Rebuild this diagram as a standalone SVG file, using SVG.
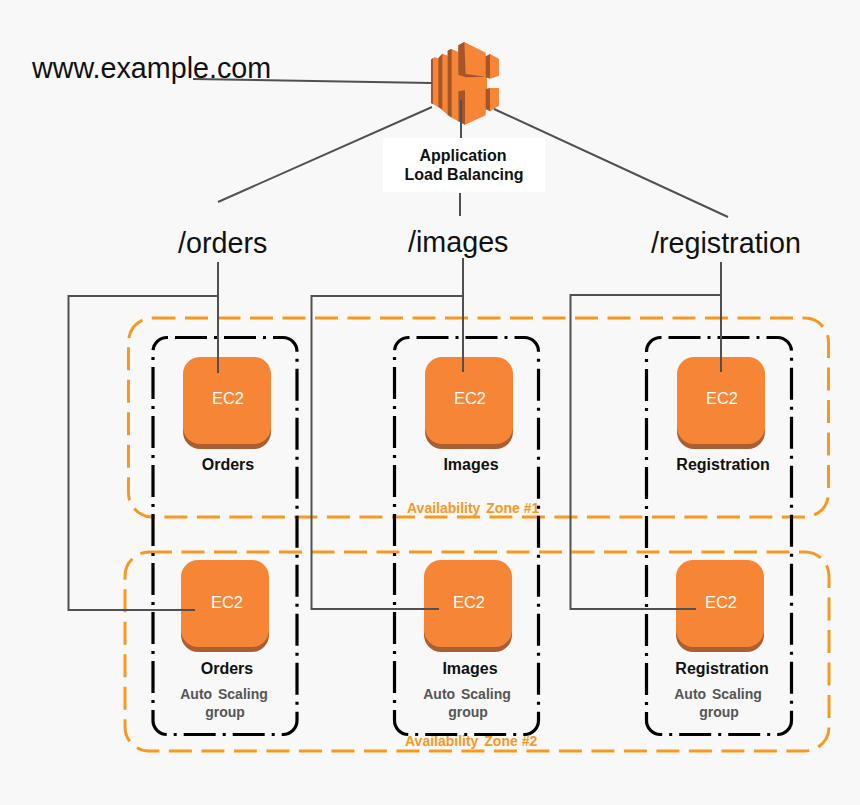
<svg xmlns="http://www.w3.org/2000/svg" width="860" height="805" viewBox="0 0 860 805">
<style>
text{font-family:"Liberation Sans",Arial,sans-serif}
.big{font-size:28.7px;fill:#111}
.lab{font-size:16px;font-weight:bold;fill:#111;text-anchor:middle}
.ec{font-size:16.5px;fill:#fff;text-anchor:middle}
.asg{font-size:14px;font-weight:bold;fill:#555;text-anchor:middle;word-spacing:2px}
.az{font-size:14px;font-weight:bold;fill:#f7991f}
.zone{fill:none;stroke:#f7991f;stroke-width:3;stroke-dasharray:23 9.500}
.box{fill:none;stroke:#000;stroke-width:3.200;stroke-dasharray:32 7 3 7;stroke-dashoffset:-8}
.cn{fill:none;stroke:#505050;stroke-width:2}
.tile{fill:#f68536}
.base{fill:#ab5e30}
.o{fill:#f68536}
.d{fill:#a5552a}
</style>
<defs>
<g id="tile">
<rect class="base" x="0" y="4" width="88" height="88" rx="17"/>
<rect class="tile" x="0" y="0" width="88" height="87" rx="17"/>
</g>
</defs>
<rect width="860" height="805" fill="#f8f8f8"/>
<g id="zones">
<rect id="zone1" class="zone" x="128.500" y="318" width="700" height="199" rx="24"/>
<rect id="zone2" class="zone" x="125" y="552" width="704" height="199" rx="24"/>
<text class="az" x="407" y="513">Availability <tspan dx="2">Zone #1</tspan></text>
<text class="az" x="405" y="746">Availability <tspan dx="2">Zone #2</tspan></text>
</g>
<g id="groups">
<rect id="asg-orders" class="box" x="153" y="337.500" width="144" height="397" rx="14"/>
<rect id="asg-images" class="box" x="394.500" y="337.500" width="144" height="397" rx="14"/>
<rect id="asg-registration" class="box" x="646.500" y="337.500" width="145" height="397" rx="14"/>
</g>
<g id="lb" transform="translate(425 38) scale(.3333)">
<polygon class="o" points="18,65 30,57 40,62 52,47 68,53 68,38 78,32 100,42 100,22 118,12 182,44 186,120 186,150 182,232 120,260 100,250 78,238 68,230 40,207 18,195"/>
<polygon class="d" points="18,65 24,60 24,198 18,195"/>
<polygon class="d" points="40,60 52,47 52,213 40,207"/>
<polygon class="d" points="68,38 80,33 80,238 68,232"/>
<polygon class="d" points="100,22 118,12 122,108 182,116 122,118 100,110"/>
<polygon class="d" points="100,160 120,157 120,260 100,250"/>
<polygon class="d" points="182,55 195,48 195,122 182,118"/>
<polygon class="o" points="195,48 222,62 222,113 195,122"/>
<polygon class="d" points="182,153 195,150 195,220 182,214"/>
<polygon class="o" points="195,150 222,150 222,203 195,220"/>
</g>
<g id="connectors">
<path class="cn" d="M193 79L432 83"/>
<path class="cn" d="M432 107L218 202"/>
<path class="cn" d="M461 100V138"/>
<path class="cn" d="M460 193V216"/>
<path class="cn" d="M494 109L728 217"/>
</g>
<g id="lb-label">
<rect x="383" y="138" width="162" height="54" fill="#fff"/>
<text class="lab" x="463" y="161">Application</text>
<text class="lab" x="464" y="180">Load Balancing</text>
</g>
<g id="domain"><text class="big" x="32" y="78">www.example.com</text></g>
<g id="route-orders"><text class="big" x="178" y="253">/orders</text></g>
<g id="route-images"><text class="big" x="408" y="252">/images</text></g>
<g id="route-registration"><text class="big" x="651" y="253">/registration</text></g>
<g id="ec2-orders-1"><use href="#tile" x="183" y="357"/><text class="ec" x="228" y="404">EC2</text><text class="lab" x="228" y="470">Orders</text></g>
<g id="ec2-images-1"><use href="#tile" x="425" y="357"/><text class="ec" x="470" y="404">EC2</text><text class="lab" x="471" y="470">Images</text></g>
<g id="ec2-registration-1"><use href="#tile" x="677" y="357"/><text class="ec" x="722" y="404">EC2</text><text class="lab" x="723" y="470">Registration</text></g>
<g id="ec2-orders-2"><use href="#tile" x="181" y="560"/><text class="ec" x="227" y="608">EC2</text><text class="lab" x="227" y="674">Orders</text><text class="asg" x="224" y="699">Auto Scaling</text><text class="asg" x="225" y="717">group</text></g>
<g id="ec2-images-2"><use href="#tile" x="424" y="560"/><text class="ec" x="469" y="608">EC2</text><text class="lab" x="470" y="674">Images</text><text class="asg" x="467" y="699">Auto Scaling</text><text class="asg" x="468" y="717">group</text></g>
<g id="ec2-registration-2"><use href="#tile" x="676" y="560"/><text class="ec" x="721" y="608">EC2</text><text class="lab" x="722" y="674">Registration</text><text class="asg" x="718" y="699">Auto Scaling</text><text class="asg" x="719" y="717">group</text></g>
<g id="connectors-routes">
<path class="cn" d="M218 262V373M218 296H68.500V610H195"/>
<path class="cn" d="M463 258V372M463 296H311.500V609H439"/>
<path class="cn" d="M721 262V372M721 295H570.500V609H696"/>
</g>
</svg>
